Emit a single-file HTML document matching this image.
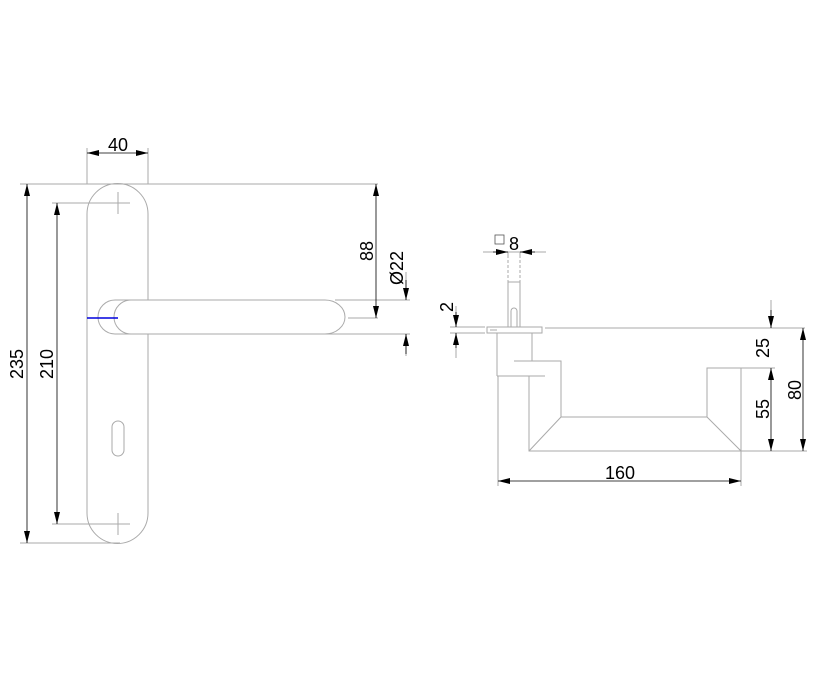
<!DOCTYPE html>
<html><head><style>html,body{margin:0;padding:0;background:#fff}svg{display:block}</style></head>
<body>
<svg width="816" height="682" viewBox="0 0 816 682" xmlns="http://www.w3.org/2000/svg" font-family="Liberation Sans, sans-serif">
<defs>
<marker id="a" viewBox="0 0 12 6" refX="12" refY="3" markerWidth="12" markerHeight="6" orient="auto-start-reverse" markerUnits="userSpaceOnUse"><path d="M0,0 L12,3 L0,6 Z" fill="#000"/></marker>
</defs>
<g fill="none" stroke="#aaa" stroke-width="1">
<!-- left plate -->
<path d="M87,513 V214 A30.5,30.5 0 0 1 148,214 V300"/>
<path d="M148,334 V513 A30.5,30.5 0 0 1 87,513"/>
<path d="M106,203 H130 M118,192 V214 M106,524 H130 M118,513 V535"/>
<rect x="112" y="421" width="12" height="35" rx="6"/>
<!-- rosette + handle -->
<path d="M135,300 H115 A17,17 0 0 0 115,334 H135"/>
<path d="M131,300 H325 A20,17 0 0 1 325,334 H131 A17,17 0 0 1 131,300 Z" fill="#fff"/>
<!-- extension lines -->
<path d="M20,184 H378 M52,203 H112 M52,524 H112 M20,543 H120 M87,148 V184 M148,148 V184 M348,318 H378 M335,300 H410 M148,334 H410"/>
<path d="M406,272 V300 M406,334 V356"/>
<!-- right view -->
<path d="M487,327 H542 V333 H487 Z"/>
<path d="M545,328 H805"/>
<path d="M508,255 V282 M520,255 V282" stroke-dasharray="3,2"/>
<path d="M508,282 H520 M508,282 V327 M520,282 V327"/>
<path d="M511,327 V311 A3,3 0 0 1 517,311 V327"/>
<path d="M497,333 V376 M532,333 V361 M490,330 H497"/>
<path d="M514,361 H561 V417 H707 V368 H741 V451 H529 V376 M497,376 H545 M529,451 L561,417 M741,451 L707,417"/>
<path d="M498,376 V486 M741,451 V486 M741,368 H775 M741,451 H807 M771,300 V328 M483,252 H546 M508,252 V255 M520,252 V255 M450,327 H485 M450,333 H485 M456,306 V327 M456,333 V358"/>
</g>
<g stroke="#000" stroke-width="0.8" fill="none">
<line x1="87" y1="153" x2="148" y2="153" marker-start="url(#a)" marker-end="url(#a)"/>
<line x1="27" y1="184" x2="27" y2="543" marker-start="url(#a)" marker-end="url(#a)"/>
<line x1="57" y1="203" x2="57" y2="524" marker-start="url(#a)" marker-end="url(#a)"/>
<line x1="376" y1="184" x2="376" y2="318" marker-start="url(#a)" marker-end="url(#a)"/>
<line x1="406" y1="280" x2="406" y2="300" marker-end="url(#a)"/>
<line x1="406" y1="354" x2="406" y2="334" marker-end="url(#a)"/>
<line x1="493" y1="252" x2="508" y2="252" marker-end="url(#a)"/>
<line x1="535" y1="252" x2="520" y2="252" marker-end="url(#a)"/>
<line x1="456" y1="312" x2="456" y2="327" marker-end="url(#a)"/>
<line x1="456" y1="348" x2="456" y2="333" marker-end="url(#a)"/>
<line x1="498" y1="481" x2="741" y2="481" marker-start="url(#a)" marker-end="url(#a)"/>
<line x1="771" y1="310" x2="771" y2="328" marker-end="url(#a)"/>
<line x1="771" y1="368" x2="771" y2="451" marker-start="url(#a)" marker-end="url(#a)"/>
<line x1="803" y1="328" x2="803" y2="451" marker-start="url(#a)" marker-end="url(#a)"/>
</g>
<line x1="87" y1="318" x2="118" y2="318" stroke="#0000dd" stroke-width="1.5"/>
<rect x="495" y="235" width="9" height="9" fill="none" stroke="#555" stroke-width="0.8"/>
<g font-size="18" fill="#000">
<text x="118" y="151" text-anchor="middle">40</text>
<text x="0" y="0" text-anchor="middle" transform="translate(23,364) rotate(-90)">235</text>
<text x="0" y="0" text-anchor="middle" transform="translate(53,364) rotate(-90)">210</text>
<text x="0" y="0" text-anchor="middle" transform="translate(373,251) rotate(-90)">88</text>
<text x="0" y="0" text-anchor="middle" transform="translate(403,268) rotate(-90)">Ø22</text>
<text x="514" y="250" text-anchor="middle">8</text>
<text x="0" y="0" text-anchor="middle" transform="translate(453,307) rotate(-90)">2</text>
<text x="620" y="479" text-anchor="middle">160</text>
<text x="0" y="0" text-anchor="middle" transform="translate(769,348) rotate(-90)">25</text>
<text x="0" y="0" text-anchor="middle" transform="translate(769,409) rotate(-90)">55</text>
<text x="0" y="0" text-anchor="middle" transform="translate(801,390) rotate(-90)">80</text>
</g>
</svg>
</body></html>
